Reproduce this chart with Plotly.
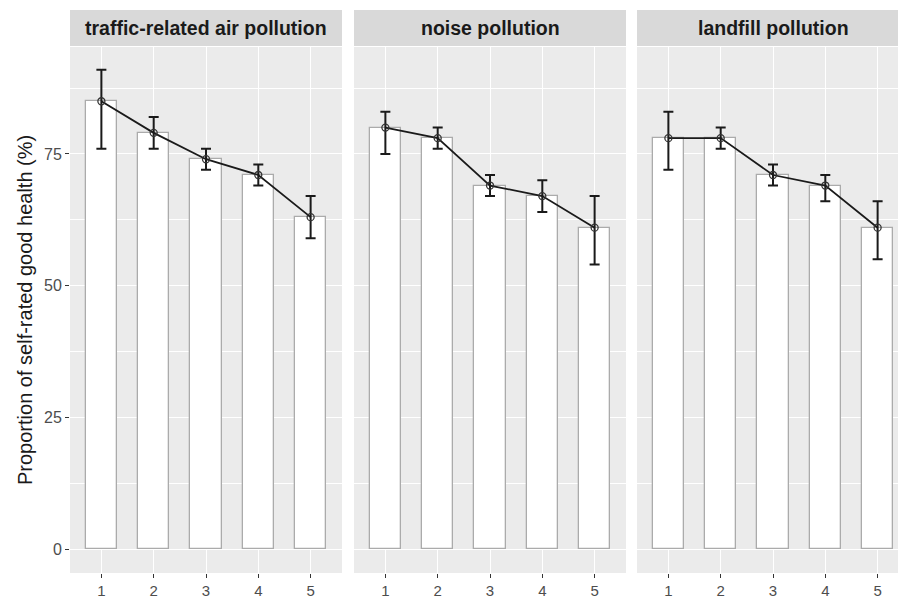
import plotly.graph_objects as go

W, H = 898, 599

panels = ["traffic-related air pollution", "noise pollution", "landfill pollution"]
categories = [1, 2, 3, 4, 5]

traffic_vals = [85, 79, 74, 71, 63]
traffic_upper = [91, 82, 76, 73, 67]
traffic_lower = [76, 76, 72, 69, 59]

noise_vals = [80, 78, 69, 67, 61]
noise_upper = [83, 80, 71, 70, 67]
noise_lower = [75, 76, 67, 64, 54]

landfill_vals = [78, 78, 71, 69, 61]
landfill_upper = [83, 80, 73, 71, 66]
landfill_lower = [72, 76, 69, 66, 55]

y_tickvals = [0, 25, 50, 75]
y_ticktext = ["0", "25", "50", "75"]
y_minor = [12.5, 37.5, 62.5, 87.5]
y_title = "Proportion of self-rated good health (%)"

series = [
    (traffic_vals, traffic_upper, traffic_lower),
    (noise_vals, noise_upper, noise_lower),
    (landfill_vals, landfill_upper, landfill_lower),
]

# pixel layout
px_per_unit = 272 / 5.2
panel_x = [(70, 342), (354, 626), (637, 898)]
panel_top, panel_bot = 47, 573
strip_top, strip_bot = 10, 46

def fx(p):
    return p / W

def fy(p):
    return 1 - p / H

fig = go.Figure()

for i, (vals, up, lo) in enumerate(series):
    xa = "x" if i == 0 else f"x{i+1}"
    ya = "y" if i == 0 else f"y{i+1}"
    fig.add_trace(go.Bar(
        x=categories, y=vals, width=0.6,
        marker=dict(color="white", line=dict(color="#ababab", width=1.3)),
        xaxis=xa, yaxis=ya, showlegend=False, hoverinfo="skip",
    ))
    fig.add_trace(go.Scatter(
        x=categories, y=vals, mode="lines+markers",
        line=dict(color="#1a1a1a", width=1.8),
        marker=dict(symbol="circle-open", size=7, color="#333333", line=dict(width=1.3)),
        error_y=dict(
            type="data", symmetric=False,
            array=[u - v for u, v in zip(up, vals)],
            arrayminus=[v - l for v, l in zip(vals, lo)],
            color="#1a1a1a", thickness=2, width=5,
        ),
        xaxis=xa, yaxis=ya, showlegend=False,
    ))

layout = dict(
    width=W, height=H,
    margin=dict(l=0, r=0, t=0, b=0, autoexpand=False),
    paper_bgcolor="white", plot_bgcolor="#ebebeb",
    font=dict(family="Liberation Sans, Arial, sans-serif", color="#4d4d4d"),
    bargap=0,
)

shapes = []
annotations = []
for i, (x0, x1) in enumerate(panel_x):
    key = "" if i == 0 else str(i + 1)
    xrange_hi = 0.4 + (x1 - x0) / px_per_unit
    layout["xaxis" + key] = dict(
        domain=[fx(x0), fx(x1)], range=[0.4, xrange_hi],
        anchor="y" + key, tickvals=categories, ticktext=[str(c) for c in categories],
        ticks="outside", ticklen=4, tickcolor="#333333", tickwidth=1.1,
        showgrid=True, gridcolor="white", gridwidth=1.2, zeroline=False,
        tickfont=dict(size=15, color="#4d4d4d"), showline=False, fixedrange=True,
        automargin=False, ticklabelstandoff=0,
    )
    yd = dict(
        domain=[fy(panel_bot), fy(panel_top)], range=[-4.55, 95.3],
        anchor="x" + key, tickvals=y_tickvals, ticktext=y_ticktext,
        showgrid=True, gridcolor="white", gridwidth=1.2, zeroline=False,
        minor=dict(tickvals=y_minor, showgrid=True, gridcolor="white", gridwidth=0.6, ticks=""),
        showline=False, fixedrange=True, automargin=False,
    )
    if i == 0:
        yd.update(ticks="outside", ticklen=4, tickcolor="#333333", tickwidth=1.1,
                  tickfont=dict(size=16, color="#4d4d4d"), showticklabels=True)
    else:
        yd.update(ticks="", showticklabels=False)
    layout["yaxis" + key] = yd

    shapes.append(dict(type="rect", xref="paper", yref="paper",
                       x0=fx(x0), x1=fx(x0 + 272), y0=fy(strip_bot), y1=fy(strip_top),
                       fillcolor="#d9d9d9", line=dict(width=0), layer="below"))
    annotations.append(dict(
        text="<b>" + panels[i] + "</b>", xref="x" + key if i else "x", x=3,
        yref="paper", y=fy((strip_top + strip_bot) / 2), showarrow=False,
        font=dict(size=19.5, color="#1a1a1a"), xanchor="center", yanchor="middle",
    ))

annotations.append(dict(
    text=y_title, xref="paper", yref="paper", x=fx(25), y=fy((panel_top + panel_bot) / 2),
    textangle=-90, showarrow=False, font=dict(size=20, color="#1a1a1a"),
    xanchor="center", yanchor="middle",
))

layout["shapes"] = shapes
layout["annotations"] = annotations
fig.update_layout(**layout)

fig.write_html("out.html")
